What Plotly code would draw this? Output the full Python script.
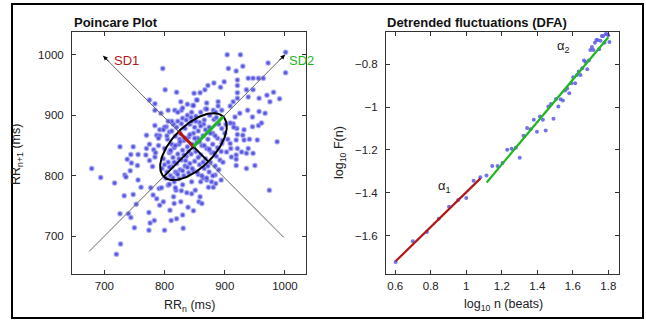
import numpy as np
import plotly.graph_objects as go

# ---------------- Poincare data (RR_n, RR_n+1 in ms) ----------------
rr_n = [797,904,926,906,919,930,939,947,956,964,
        972,1001,1001,801,820,827,859,867,872,882,
        893,899,921,921,936,947,921,921,939,957,
        970,981,991,975,957,967,938,946,925,914,
        909,889,889,881,895,849,853,847,828,817,
        806,794,784,784,775,784,770,787,792,803,
        775,770,782,769,784,756,748,744,738,726,
        745,755,743,756,734,736,679,694,717,733,
        748,761,753,740,744,750,726,727,720,774,
        776,774,783,792,800,798,809,811,816,820,
        830,831,839,848,857,862,827,819,828,787,
        791,777,781,806,815,837,845,851,859,873,
        881,885,894,884,870,903,911,919,921,928,
        936,939,947,932,941,919,930,920,921,932,
        946,956,961,914,954,917,909,919,919,936,
        950,974,987,895,909,
        800,808,815,822,830,838,845,852,860,868,875,882,890,895,
        805,812,818,826,834,842,850,858,866,874,880,888,896,
        800,808,816,824,832,840,848,856,864,872,880,888,894,
        798,806,814,822,830,838,846,854,862,870,878,886,892,
        796,804,812,820,828,836,844,852,860,868,876,884,
        802,810,818,826,834,842,850,858,866,874,
        808,816,824,832,840,848,856,864,
        790,785,792,812,830,848,870,885,900,905,
        860,845,830,818,880,890,897,875,855,835,
        825,865,845,810,820,
        804,812,820,828,836,844,852,860,868,876,884,
        810,818,826,834,842,850,858,866,874,882,
        800,808,816,824,832,840,848,856,864,872,
        814,822,830,838,846,854,862,870,878,
        790,798,806,822,838,854,870,886,902,780,775,795,910,915]
rr_n1 = [977,1000,1000,977,973,981,961,961,961,961,
         986,1004,970,942,938,922,937,942,949,953,
         946,955,958,949,942,942,937,928,930,928,
         933,938,927,922,906,903,908,897,903,922,
         915,922,915,908,908,936,925,916,908,908,
         908,903,908,919,925,883,867,867,876,881,
         852,845,843,834,831,835,848,835,827,848,
         821,817,808,793,801,798,812,797,788,767,
         769,781,753,737,731,714,737,687,670,739,
         722,710,726,751,710,757,743,726,754,729,
         735,713,748,742,757,754,757,776,775,762,
         779,780,768,784,765,772,770,776,765,781,
         781,787,793,801,793,839,831,834,845,839,
         837,845,837,859,860,859,867,878,868,876,
         881,883,887,886,859,897,887,827,817,812,
         817,776,856,853,853,
         880,872,885,890,895,900,905,898,905,910,900,893,885,878,
         860,852,865,870,878,885,880,888,892,880,870,862,858,
         845,838,846,852,858,864,870,874,866,860,852,846,840,
         828,822,830,836,842,848,852,856,850,845,838,832,826,
         812,806,815,820,826,832,836,840,834,828,822,816,
         796,800,806,810,816,820,824,818,812,806,
         786,790,795,800,805,808,802,796,
         850,838,866,890,912,916,920,905,870,860,
         790,790,785,780,800,810,822,842,862,825,
         860,885,890,840,805,
         866,874,880,886,892,896,890,882,876,870,866,
         842,850,856,862,868,862,856,850,844,838,
         818,814,822,828,834,840,846,830,822,816,
         796,802,808,814,812,806,800,796,790,
         862,876,890,905,918,925,910,896,885,815,825,780,845,880]

rr_center = 848      # ms, centre of the ellipse
sd1 = 35             # ms
sd2 = 70             # ms
diag_range = [675, 1000]   # identity-line extent (RR_n)
perp_range = [998, 698]    # perpendicular-line extent (RR_n), arrow at second

# ---------------- DFA data ----------------
n_beats = list(range(4, 65))
log_F = [-1.723,-1.627,-1.583,-1.521,-1.465,-1.434,-1.424,-1.344,-1.328,-1.319,
         -1.275,-1.275,-1.261,-1.199,-1.195,-1.190,-1.237,-1.134,-1.098,-1.103,
         -1.059,-1.115,-1.044,-1.059,-1.109,-0.997,-0.986,-1.055,-0.962,-0.997,
         -0.963,-0.969,-0.923,-0.913,-0.935,-0.889,-0.861,-0.889,-0.850,-0.834,
         -0.850,-0.819,-0.783,-0.790,-0.823,-0.783,-0.733,-0.720,-0.733,-0.700,
         -0.687,-0.687,-0.730,-0.690,-0.668,-0.668,-0.700,-0.659,-0.660,-0.664,
         -0.696]
fit1_x = [0.602, 1.080]
fit1_y = [-1.720, -1.333]
fit2_x = [1.115, 1.800]
fit2_y = [-1.352, -0.674]

W, H = 646, 322
FONT = "Liberation Sans, Arial, Helvetica, sans-serif"
RED = "#b01818"
GREEN = "#1eb81e"
PT = "#4646dc"

def px(x):
    return x / W
def py(y):
    return 1 - y / H

fig = go.Figure()

# scatter
fig.add_trace(go.Scatter(x=rr_n, y=rr_n1, mode="markers",
                         marker=dict(size=4.5, color=PT, opacity=0.9,
                                     line=dict(width=1.5, color="rgba(160,160,245,0.6)")),
                         xaxis="x", yaxis="y", hoverinfo="skip"))

# identity line and perpendicular line
dx = np.array(diag_range, dtype=float)
fig.add_trace(go.Scatter(x=dx, y=dx, mode="lines", line=dict(color="#666", width=1),
                         xaxis="x", yaxis="y"))
pxr = np.array(perp_range, dtype=float)
fig.add_trace(go.Scatter(x=pxr, y=2 * rr_center - pxr, mode="lines",
                         line=dict(color="#666", width=1), xaxis="x", yaxis="y"))

# ellipse
r2 = 1 / np.sqrt(2)
t = np.linspace(0, 2 * np.pi, 200)
ex = rr_center + sd2 * np.cos(t) * r2 - sd1 * np.sin(t) * r2
ey = rr_center + sd2 * np.cos(t) * r2 + sd1 * np.sin(t) * r2
fig.add_trace(go.Scatter(x=ex, y=ey, mode="lines", line=dict(color="black", width=2),
                         xaxis="x", yaxis="y"))
# black half axes
fig.add_trace(go.Scatter(x=[rr_center - sd2 * r2, rr_center, rr_center + sd1 * r2],
                         y=[rr_center - sd2 * r2, rr_center, rr_center - sd1 * r2],
                         mode="lines", line=dict(color="black", width=1.8),
                         xaxis="x", yaxis="y"))
# SD1, SD2
fig.add_trace(go.Scatter(x=[rr_center, rr_center - sd1 * r2], y=[rr_center, rr_center + sd1 * r2],
                         mode="lines", line=dict(color=RED, width=3), xaxis="x", yaxis="y"))
fig.add_trace(go.Scatter(x=[rr_center, rr_center + sd2 * r2], y=[rr_center, rr_center + sd2 * r2],
                         mode="lines", line=dict(color=GREEN, width=3), xaxis="x", yaxis="y"))

# DFA
fig.add_trace(go.Scatter(x=np.log10(n_beats), y=log_F, mode="markers",
                         marker=dict(size=4, color="#5a5ae6", opacity=0.85),
                         xaxis="x2", yaxis="y2"))
fig.add_trace(go.Scatter(x=fit1_x, y=fit1_y, mode="lines", line=dict(color=RED, width=2.2),
                         xaxis="x2", yaxis="y2"))
fig.add_trace(go.Scatter(x=fit2_x, y=fit2_y, mode="lines", line=dict(color=GREEN, width=2.2),
                         xaxis="x2", yaxis="y2"))

ax_common = dict(showgrid=False, zeroline=False, showline=True, linecolor="#333",
                 linewidth=1, mirror="ticks", ticks="inside", ticklen=4, tickcolor="#333",
                 tickfont=dict(family=FONT, size=11.5, color="#222"))

fig.update_layout(
    width=W, height=H, margin=dict(l=0, r=0, t=0, b=0),
    paper_bgcolor="white", plot_bgcolor="white", showlegend=False,
    font=dict(family=FONT, size=12, color="#222"),
    xaxis=dict(domain=[px(72), px(306)], range=[646.3, 1034.9],
               tickvals=[700, 800, 900, 1000], anchor="y", ticklabelstandoff=2, **ax_common),
    yaxis=dict(domain=[py(273.5), py(32)], range=[638.4, 1037.4],
               tickvals=[700, 800, 900, 1000], anchor="x", ticklabelstandoff=5, **ax_common),
    xaxis2=dict(domain=[px(386), px(619)], range=[0.548, 1.860],
                tickvals=[0.6, 0.8, 1.0, 1.2, 1.4, 1.6, 1.8],
                ticktext=["0.6", "0.8", "1", "1.2", "1.4", "1.6", "1.8"],
                anchor="y2", ticklabelstandoff=2, **ax_common),
    yaxis2=dict(domain=[py(273.5), py(31.7)], range=[-1.777, -0.648],
                tickvals=[-1.6, -1.4, -1.2, -1.0, -0.8],
                ticktext=["\u22121.6", "\u22121.4", "\u22121.2", "\u22121", "\u22120.8"],
                anchor="x2", ticklabelstandoff=5, **ax_common),
)

ann = []
# titles
ann.append(dict(text="<b>Poincare Plot</b>", x=px(72), y=py(23), xref="paper", yref="paper",
                xanchor="left", yanchor="middle", showarrow=False,
                font=dict(family=FONT, size=13, color="#111")))
ann.append(dict(text="<b>Detrended fluctuations (DFA)</b>", x=px(385), y=py(23), xref="paper",
                yref="paper", xanchor="left", yanchor="middle", showarrow=False,
                font=dict(family=FONT, size=13, color="#111")))
# axis titles
ann.append(dict(text="RR<sub>n</sub> (ms)", x=px(189), y=py(306), xref="paper", yref="paper",
                xanchor="center", yanchor="middle", showarrow=False,
                font=dict(family=FONT, size=12.5, color="#222")))
ann.append(dict(text="RR<sub>n+1</sub> (ms)", x=px(17), y=py(155), xref="paper", yref="paper",
                xanchor="center", yanchor="middle", showarrow=False, textangle=-90,
                font=dict(family=FONT, size=12.5, color="#222")))
ann.append(dict(text="log<sub>10</sub> n (beats)", x=px(503), y=py(305), xref="paper",
                yref="paper", xanchor="center", yanchor="middle", showarrow=False,
                font=dict(family=FONT, size=12.5, color="#222")))
ann.append(dict(text="log<sub>10</sub> F(n)", x=px(340), y=py(153), xref="paper", yref="paper",
                xanchor="center", yanchor="middle", showarrow=False, textangle=-90,
                font=dict(family=FONT, size=12.5, color="#222")))
# SD labels
ann.append(dict(text="SD1", x=perp_range[1] + 15, y=991, xref="x", yref="y", xanchor="left",
                yanchor="middle", showarrow=False, font=dict(family=FONT, size=13, color=RED)))
ann.append(dict(text="SD2", x=diag_range[1] + 3, y=991, xref="x", yref="y", xanchor="left",
                yanchor="middle", showarrow=False, font=dict(family=FONT, size=13, color=GREEN)))
# arrowheads
ann.append(dict(text="", x=diag_range[1], y=diag_range[1], xref="x", yref="y",
                ax=-7, ay=7, showarrow=True, arrowhead=2, arrowsize=0.9, arrowwidth=1,
                arrowcolor="black", font=dict(size=1)))
ann.append(dict(text="", x=perp_range[1], y=2 * rr_center - perp_range[1], xref="x", yref="y",
                ax=7, ay=7, showarrow=True, arrowhead=2, arrowsize=0.9, arrowwidth=1,
                arrowcolor="black", font=dict(size=1)))
# alpha labels
ann.append(dict(text="\u03b1<sub>1</sub>", x=0.88, y=-1.37, xref="x2", yref="y2",
                showarrow=False, font=dict(family=FONT, size=13, color="#222")))
ann.append(dict(text="\u03b1<sub>2</sub>", x=1.545, y=-0.715, xref="x2", yref="y2",
                showarrow=False, font=dict(family=FONT, size=13, color="#222")))
fig.update_layout(annotations=ann)

# outer frame
fig.add_shape(type="rect", xref="paper", yref="paper", x0=px(12), x1=px(643),
              y0=py(318), y1=py(4), line=dict(color="black", width=2))

fig.write_html("out.html")
